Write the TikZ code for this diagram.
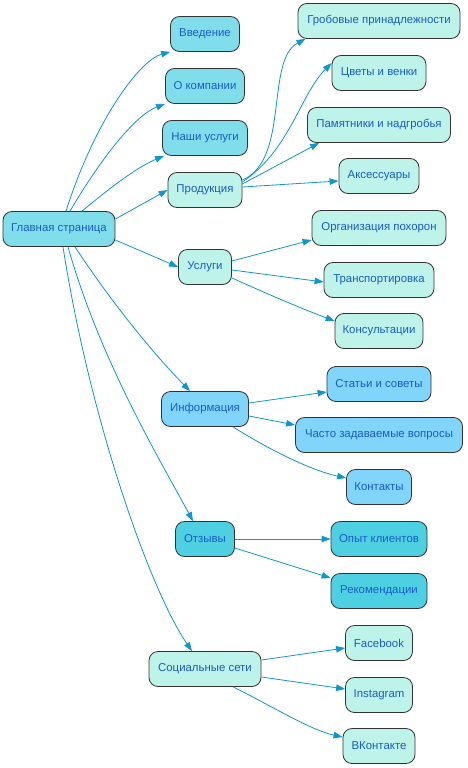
\documentclass[tikz,border=0pt]{standalone}
\usepackage{fontspec}
\setmainfont{Liberation Sans}
\usetikzlibrary{arrows.meta}
\definecolor{cmain}{HTML}{80DEEA}
\definecolor{cpale}{HTML}{BDF3E8}
\definecolor{cinfo}{HTML}{81D4FA}
\definecolor{crev}{HTML}{4DD0E1}
\definecolor{ctext}{HTML}{1A5CC8}
\definecolor{cedge}{HTML}{0A98CF}
\definecolor{cborder}{HTML}{333333}
\tikzset{
  box/.style={draw=cborder, line width=0.8pt, rounded corners=9pt, minimum height=35pt,
    inner xsep=2pt, font=\fontsize{11.4}{13}\selectfont, text=ctext},
  bmain/.style={box, fill=cmain},
  bpale/.style={box, fill=cpale},
  binfo/.style={box, fill=cinfo},
  brev/.style={box, fill=crev},
  edge/.style={draw=cedge, line width=0.8pt, -{Triangle[length=9pt,width=6.5pt]}}
}
\begin{document}
\begin{tikzpicture}[x=1pt,y=-1pt]
\path[use as bounding box] (0,0) rectangle (467,768);
% nodes
\node[bmain, minimum width=112pt] (main) at (59,229) {Главная страница};
\node[bmain, minimum width=69pt] (intro) at (205,34) {Введение};
\node[bmain, minimum width=79pt] (about) at (205,86) {О компании};
\node[bmain, minimum width=85pt] (ours) at (205,138) {Наши услуги};
\node[bpale, minimum width=74pt] (prod) at (205,190) {Продукция};
\node[bpale, minimum width=53pt] (serv) at (205,267) {Услуги};
\node[binfo, minimum width=87pt] (info) at (205,409) {Информация};
\node[brev, minimum width=59pt] (rev) at (205,539) {Отзывы};
\node[bpale, minimum width=112pt] (soc) at (205,669) {Социальные сети};

\node[bpale, minimum width=162pt] (coff) at (379,21) {Гробовые принадлежности};
\node[bpale, minimum width=94pt] (flow) at (379,73) {Цветы и венки};
\node[bpale, minimum width=143pt] (monu) at (379,125) {Памятники и надгробья};
\node[bpale, minimum width=80pt] (acc) at (379,176) {Аксессуары};

\node[bpale, minimum width=134pt] (org) at (379,228) {Организация похорон};
\node[bpale, minimum width=110pt] (trans) at (379,280) {Транспортировка};
\node[bpale, minimum width=88pt] (cons) at (379,331) {Консультации};

\node[binfo, minimum width=104pt] (art) at (379,384) {Статьи и советы};
\node[binfo, minimum width=167pt] (faq) at (379,435) {Часто задаваемые вопросы};
\node[binfo, minimum width=65pt] (cont) at (379,487) {Контакты};

\node[brev, minimum width=96pt] (exp) at (379,539) {Опыт клиентов};
\node[brev, minimum width=96pt] (rec) at (379,591) {Рекомендации};

\node[bpale, minimum width=67pt] (fb) at (379,643) {Facebook};
\node[bpale, minimum width=67pt] (ig) at (379,695) {Instagram};
\node[bpale, minimum width=72pt] (vk) at (379,746) {ВКонтакте};

% edges from main
\draw[edge] (main.north) ++(7,0) coordinate (m1) (m1) .. controls (95,120) and (140,60) .. (intro.south west);
\draw[edge] (main.north) ++(11,0) coordinate (m2) (m2) .. controls (100,160) and (135,115) .. (about.south west);
\draw[edge] (main.north) ++(23,0) coordinate (m3) (m3) .. controls (105,192) and (135,168) .. ([xshift=2pt]ours.south west);
\draw[edge] (main.east) ++(0,-10) coordinate (m4) (m4) -- (prod.west);
\draw[edge] (main.east) ++(0,11) coordinate (m5) (m5) -- (serv.west);
\draw[edge] (main.south) ++(16,0) coordinate (m6) (m6) .. controls (110,300) and (150,350) .. ([xshift=-15pt]info.north);
\draw[edge] (main.south) ++(9,0) coordinate (m7) (m7) .. controls (100,360) and (160,460) .. ([xshift=-12pt]rev.north);
\draw[edge] (main.south) ++(4,0) coordinate (m8) (m8) .. controls (90,420) and (150,590) .. ([xshift=-13pt]soc.north);

% Продукция
\draw[edge] ([yshift=10pt]prod.east) .. controls (290,160) and (265,60) .. ([xshift=8pt]coff.south west);
\draw[edge] ([yshift=8pt]prod.east) .. controls (290,150) and (300,95) .. ([yshift=10pt]flow.west);
\draw[edge] ([yshift=6pt]prod.east) -- ([xshift=12pt]monu.south west);
\draw[edge] ([yshift=3pt]prod.east) -- ([yshift=-5pt]acc.west);

% Услуги
\draw[edge] ([yshift=6pt]serv.east) -- ([yshift=-12pt]org.west);
\draw[edge] ([yshift=-3pt]serv.east) -- ([yshift=-2pt]trans.west);
\draw[edge] ([yshift=-11pt]serv.east) .. controls (270,295) and (300,308) .. ([yshift=10pt]cons.west);

% Информация
\draw[edge] ([yshift=6pt]info.east) -- ([yshift=-8pt]art.west);
\draw[edge] ([yshift=-7pt]info.east) -- ([yshift=10pt]faq.west);
\draw[edge] ([xshift=28pt]info.south) .. controls (270,450) and (310,470) .. ([yshift=9pt]cont.west);

% Отзывы
\draw[edge] (rev.east) -- (exp.west);
\draw[edge] ([yshift=-9pt]rev.east) -- ([yshift=13pt]rec.west);

% Социальные сети
\draw[edge] ([yshift=9pt]soc.east) -- ([yshift=-5pt]fb.west);
\draw[edge] ([yshift=-8pt]soc.east) -- ([yshift=6pt]ig.west);
\draw[edge] ([xshift=28pt]soc.south) .. controls (270,705) and (310,730) .. ([yshift=9pt]vk.west);
\end{tikzpicture}
\end{document}
